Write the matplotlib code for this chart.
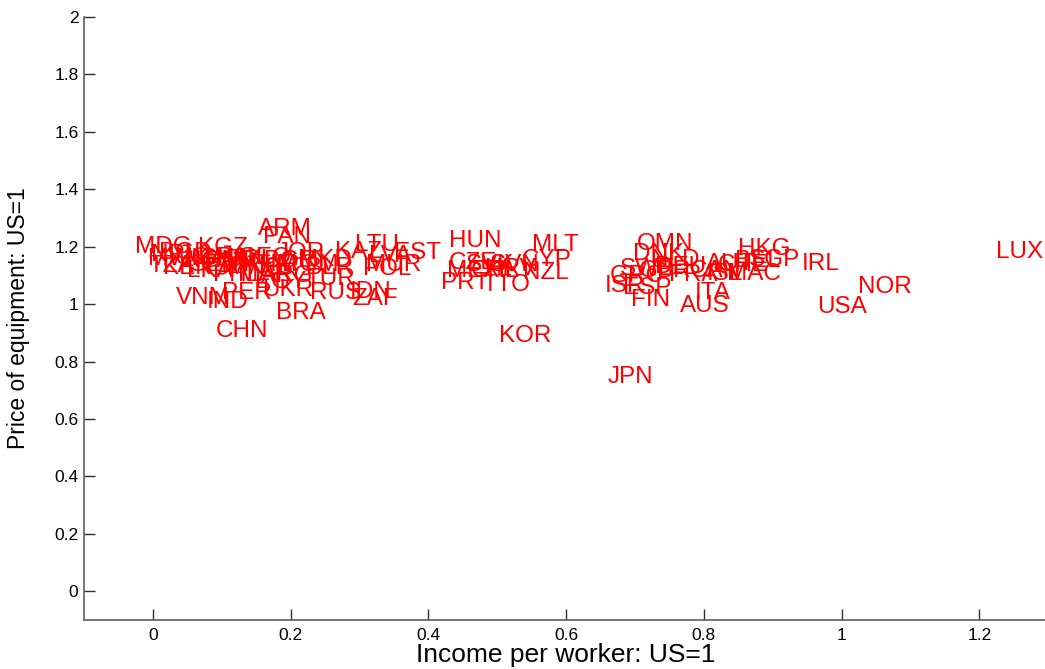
import matplotlib
matplotlib.use("Agg")
import matplotlib.pyplot as plt

plt.rcParams['font.family'] = ['Liberation Sans', 'DejaVu Sans']

# Country codes with income per worker (US=1) and price of equipment (US=1)
codes = ['MDG', 'KGZ', 'TZA', 'KEN', 'NPL', 'BGD', 'MWI', 'UGA', 'NGA', 'GHA',
         'PAK', 'SEN', 'HND', 'BOL', 'GEO', 'JOR', 'PHL', 'LKA', 'MNG', 'KHM',
         'PER', 'UKR', 'RUS', 'IDN', 'ZAF', 'EGY', 'VNM', 'IND', 'CHN', 'BRA',
         'ARM', 'PAN', 'KAZ', 'LTU', 'LVA', 'EST', 'BGR', 'ROM', 'MKD', 'MAR',
         'ARG', 'BLR', 'MUR', 'POL', 'TUR',
         'HUN', 'MLT', 'CYP', 'CZE', 'SVK', 'SVN', 'MEX', 'CHL', 'HRV', 'NZL',
         'PRT', 'TTO', 'KOR',
         'OMN', 'DNK', 'NLD', 'SWE', 'GBR', 'GRC', 'FRA', 'CAN', 'DEU', 'AUT',
         'ISL', 'MAC', 'BEL', 'SGP', 'CHE', 'ISR', 'ESP', 'FIN', 'ITA', 'AUS',
         'HKG', 'IRL', 'JPN', 'USA', 'NOR', 'LUX']
income = [0.015, 0.101, 0.027, 0.051, 0.032, 0.047, 0.029, 0.069, 0.083, 0.105,
          0.127, 0.090, 0.112, 0.141, 0.163, 0.215, 0.122, 0.083, 0.149, 0.170,
          0.137, 0.195, 0.265, 0.316, 0.323, 0.185, 0.073, 0.109, 0.130, 0.215,
          0.191, 0.195, 0.298, 0.326, 0.345, 0.384, 0.199, 0.229, 0.250, 0.163,
          0.195, 0.257, 0.349, 0.340, 0.257,
          0.468, 0.584, 0.572, 0.465, 0.490, 0.526, 0.465, 0.497, 0.519, 0.570,
          0.453, 0.514, 0.540,
          0.744, 0.734, 0.758, 0.718, 0.744, 0.703, 0.784, 0.816, 0.766, 0.838,
          0.831, 0.872, 0.879, 0.903, 0.857, 0.686, 0.718, 0.723, 0.813, 0.802,
          0.888, 0.969, 0.694, 1.000, 1.063, 1.258]
price = [1.209, 1.206, 1.143, 1.136, 1.181, 1.188, 1.167, 1.171, 1.160, 1.167,
         1.171, 1.146, 1.160, 1.164, 1.171, 1.188, 1.111, 1.125, 1.136, 1.146,
         1.049, 1.059, 1.049, 1.052, 1.028, 1.087, 1.031, 1.017, 0.916, 0.979,
         1.272, 1.244, 1.192, 1.216, 1.178, 1.188, 1.160, 1.146, 1.164, 1.111,
         1.108, 1.136, 1.146, 1.132, 1.098,
         1.230, 1.216, 1.164, 1.153, 1.146, 1.146, 1.125, 1.125, 1.132, 1.118,
         1.084, 1.077, 0.899,
         1.220, 1.185, 1.164, 1.132, 1.125, 1.108, 1.111, 1.125, 1.139, 1.150,
         1.115, 1.115, 1.160, 1.164, 1.146, 1.073, 1.066, 1.024, 1.049, 1.003,
         1.202, 1.150, 0.756, 1.000, 1.070, 1.192]

fig = plt.figure(figsize=(10.45, 6.69), dpi=100)
ax = fig.add_axes([84 / 1045, 49 / 669, 964.3 / 1045, 603 / 669])

fs = 17.5
for c, x, y in zip(codes, income, price):
    ax.annotate(c, xy=(x, y), xytext=(0, -0.358 * fs), textcoords="offset points",
                ha="center", va="baseline", color="#ff0000", fontsize=fs)

ax.set_xlim(-0.1, 1.3)
ax.set_ylim(-0.1, 2)
ax.set_xticks([0, 0.2, 0.4, 0.6, 0.8, 1, 1.2])
ax.set_xticklabels(['0', '0.2', '0.4', '0.6', '0.8', '1', '1.2'])
ax.set_yticks([0, 0.2, 0.4, 0.6, 0.8, 1, 1.2, 1.4, 1.6, 1.8, 2])
ax.set_yticklabels(['0', '0.2', '0.4', '0.6', '0.8', '1', '1.2', '1.4', '1.6', '1.8', '2'])

ax.spines[["top", "right"]].set_visible(False)
for s in ["left", "bottom"]:
    ax.spines[s].set_color("#606060")
    ax.spines[s].set_linewidth(1.2)
ax.tick_params(direction="in", length=8, width=1, color="#303030",
               labelsize=12.5, labelcolor="black")
ax.tick_params(axis="x", pad=6)
ax.tick_params(axis="y", pad=4)

ax.set_xlabel("Income per worker: US=1", fontsize=19)
ax.set_ylabel("Price of equipment: US=1", fontsize=16.5)
ax.xaxis.set_label_coords(0.5, -0.038)
ax.yaxis.set_label_coords(-0.056, 0.5)

fig.savefig("out.png", dpi=100)
